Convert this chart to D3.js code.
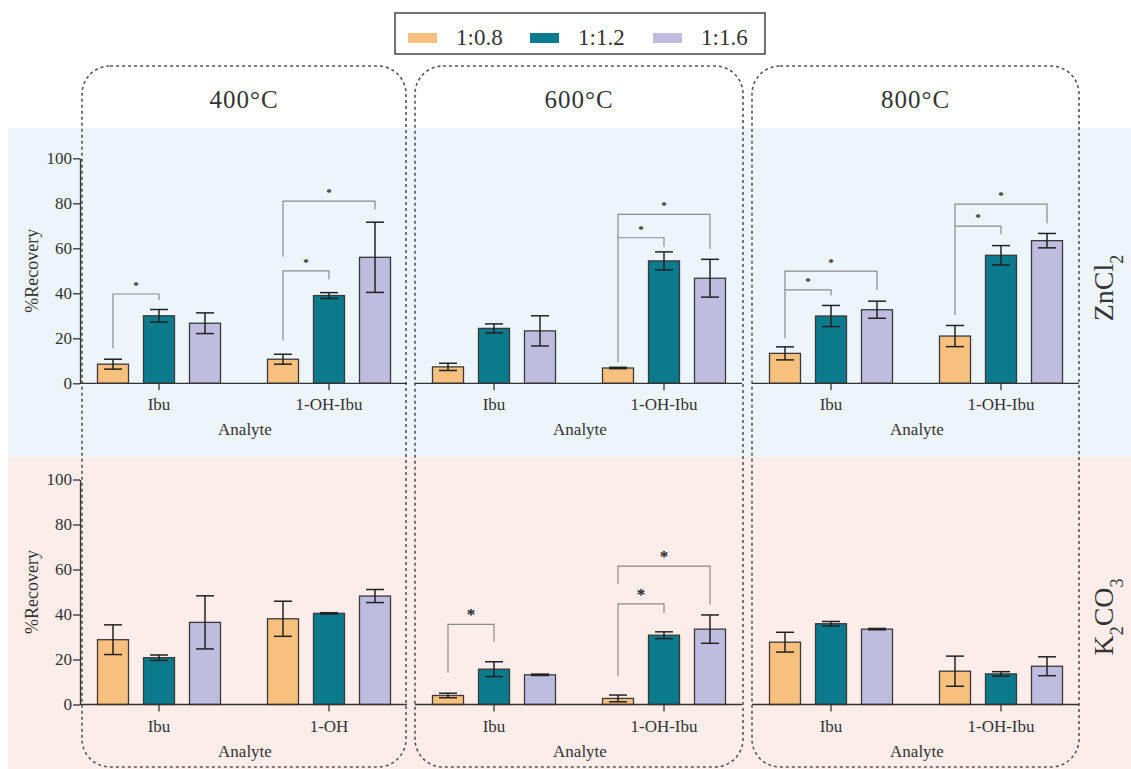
<!DOCTYPE html>
<html>
<head>
<meta charset="utf-8">
<script src="https://cdn.jsdelivr.net/npm/d3@7"></script>
<style>
  body { margin: 0; background: #fff; }
  svg text { font-family: "Liberation Serif", "Times New Roman", serif; fill: #333; }
</style>
</head>
<body>
<div id="chart"></div>
<script>
// categories
var ratios = ["1:0.8", "1:1.2", "1:1.6"];
var colors = ["#f8c07e", "#0b7a8d", "#bebde0"];
var temps = ["400°C", "600°C", "800°C"];
var analytes = ["Ibu", "1-OH-Ibu"];
var analytesShort = ["Ibu", "1-OH"];
var yTicks = [0, 20, 40, 60, 80, 100];

// %Recovery means, [analyte][ratio]
var zn400 = [[8.5, 30.0, 26.7], [10.7, 39.0, 56.0]];
var zn600 = [[7.3, 24.4, 23.3], [6.8, 54.4, 46.7]];
var zn800 = [[13.3, 29.9, 32.7], [21.0, 56.9, 63.4]];
var k400 = [[28.8, 20.8, 36.5], [38.1, 40.5, 48.2]];
var k600 = [[4.0, 15.7, 13.2], [2.7, 30.8, 33.5]];
var k800 = [[27.7, 35.9, 33.5], [14.8, 13.6, 17.0]];

// error bar half widths
var zn400Err = [[2.2, 2.8, 4.6], [2.2, 1.3, 15.6]];
var zn600Err = [[1.6, 2.0, 6.7], [0.3, 4.0, 8.4]];
var zn800Err = [[2.9, 4.7, 3.8], [4.7, 4.3, 3.2]];
var k400Err = [[6.6, 1.2, 11.8], [7.8, 0.3, 2.9]];
var k600Err = [[1.0, 3.3, 0.3], [1.5, 1.5, 6.3]];
var k800Err = [[4.4, 1.0, 0.3], [6.7, 1.0, 4.2]];

// significance brackets: [analyte, fromRatio, toRatio, top, leftLegEnd, rightLegEnd]
var zn400Sig = [[0, 0, 1, 39.7, 15.6, 37.0], [1, 0, 1, 50.0, 19.0, 46.2], [1, 0, 2, 81.0, 56.3, 77.3]];
var zn600Sig = [[1, 0, 1, 64.7, 9.5, 60.7], [1, 0, 2, 75.1, 64.7, 59.7]];
var zn800Sig = [[0, 0, 1, 41.5, 20.0, 39.0], [0, 0, 2, 49.9, 41.5, 41.5], [1, 0, 1, 69.9, 30.4, 66.2], [1, 0, 2, 79.6, 69.9, 71.1]];
var k400Sig = [];
var k600Sig = [[0, 0, 1, 35.6, 14.1, 27.9], [1, 0, 1, 44.7, 12.6, 40.7], [1, 0, 2, 61.5, 53.6, 44.4]];
var k800Sig = [];

var W = 1131, H = 769;
var svg = d3.select("#chart").append("svg")
    .attr("width", W)
    .attr("height", H);

// row backgrounds
svg.append("rect").attr("x", 8).attr("y", 128).attr("width", W - 8).attr("height", 329).attr("fill", "#edf5fb");
svg.append("rect").attr("x", 8).attr("y", 457).attr("width", W - 8).attr("height", H - 457).attr("fill", "#fcedea");

// legend
svg.append("rect")
    .attr("x", 395).attr("y", 13).attr("width", 370).attr("height", 41)
    .attr("fill", "#fff").attr("stroke", "#444").attr("stroke-width", 1.5);
var legX = [408, 530, 653];
ratios.forEach(function(r, i) {
    svg.append("rect").attr("x", legX[i]).attr("y", 33).attr("width", 29).attr("height", 10).attr("fill", colors[i]);
    svg.append("text").attr("x", legX[i] + 48).attr("y", 45).attr("font-size", "23px").text(r);
});

// column frames (dashed rounded boxes)
var cols = [80, 415, 752];     // start of x axis in each column
var frames = [[82, 406], [415, 743], [752, 1079]];
frames.forEach(function(f, i) {
    svg.append("rect")
        .attr("x", f[0]).attr("y", 66)
        .attr("width", f[1] - f[0]).attr("height", 701)
        .attr("rx", 28).attr("ry", 28)
        .attr("fill", "none").attr("stroke", "#555")
        .attr("stroke-width", 1.6).attr("stroke-dasharray", "3,3");
    svg.append("text")
        .attr("x", (f[0] + f[1]) / 2).attr("y", 108)
        .attr("text-anchor", "middle").attr("font-size", "25px")
        .attr("letter-spacing", "1px")
        .text(temps[i]);
});

// row labels
function rowLabel(y, parts) {
    var t = svg.append("text")
        .attr("transform", "translate(1113," + y + ") rotate(-90)")
        .attr("text-anchor", "middle").attr("font-size", "28px");
    parts.forEach(function(p) {
        var s = t.append("tspan").text(p[0]);
        if (p[1]) s.attr("font-size", "18px").attr("baseline-shift", "sub");
    });
}
rowLabel(288, [["ZnCl", false], ["2", true]]);
rowLabel(617, [["K", false], ["2", true], ["CO", false], ["3", true]]);

var rows = [
    { y0: 383.3, means: [zn400, zn600, zn800], errs: [zn400Err, zn600Err, zn800Err], sig: [zn400Sig, zn600Sig, zn800Sig], star: 11 },
    { y0: 704.5, means: [k400, k600, k800], errs: [k400Err, k600Err, k800Err], sig: [k400Sig, k600Sig, k800Sig], star: 17 }
];

rows.forEach(function(row, ri) {
    var yScale = d3.scaleLinear().domain([0, 100]).range([row.y0, row.y0 - 225]);

    row.means.forEach(function(means, ci) {
        var xs = cols[ci];
        var labels = (ri == 1 && ci == 0) ? analytesShort : analytes;
        var x0 = d3.scaleBand().domain(analytes).range([xs - 6, xs + 334]);
        var x1 = d3.scaleBand().domain(ratios).range([23.5, 146.5]).paddingInner(0.326);
        var g = svg.append("g");

        var data = [];
        analytes.forEach(function(a, ai) {
            ratios.forEach(function(r, k) {
                data.push({ a: a, r: r, k: k, v: means[ai][k], e: row.errs[ci][ai][k] });
            });
        });

        // bars
        g.selectAll(".bar")
            .data(data)
            .enter().append("rect")
            .attr("x", function(d) { return x0(d.a) + x1(d.r); })
            .attr("y", function(d) { return yScale(d.v); })
            .attr("width", x1.bandwidth())
            .attr("height", function(d) { return yScale(0) - yScale(d.v); })
            .attr("fill", function(d) { return colors[d.k]; })
            .attr("stroke", "#3a3a3a").attr("stroke-width", 1.3);

        // error bars
        var cx = function(d) { return x0(d.a) + x1(d.r) + x1.bandwidth() / 2; };
        var eb = g.selectAll(".err").data(data).enter().append("g").attr("stroke", "#222").attr("stroke-width", 1.5);
        eb.append("line")
            .attr("x1", cx).attr("x2", cx)
            .attr("y1", function(d) { return yScale(d.v + d.e); })
            .attr("y2", function(d) { return yScale(d.v - d.e); });
        [1, -1].forEach(function(sgn) {
            eb.append("line")
                .attr("x1", function(d) { return cx(d) - 9; })
                .attr("x2", function(d) { return cx(d) + 9; })
                .attr("y1", function(d) { return yScale(d.v + sgn * d.e); })
                .attr("y2", function(d) { return yScale(d.v + sgn * d.e); });
        });

        // significance brackets
        var bx = function(ai, k) { return x0(analytes[ai]) + x1(ratios[k]) + x1.bandwidth() / 2; };
        row.sig[ci].forEach(function(s) {
            var xa = bx(s[0], s[1]), xb = bx(s[0], s[2]);
            g.append("path")
                .attr("d", "M" + xa + "," + yScale(s[4]) + "V" + yScale(s[3]) + "H" + xb + "V" + yScale(s[5]))
                .attr("fill", "none").attr("stroke", "#8a8a8a").attr("stroke-width", 1.2);
            g.append("text")
                .attr("x", (xa + xb) / 2)
                .attr("y", yScale(s[3]) - (ri == 0 ? 5 : 4))
                .attr("text-anchor", "middle")
                .attr("font-size", row.star + "px")
                .attr("font-weight", "bold")
                .style("fill", "#222")
                .text("*");
        });

        // x axis
        var xAxis = g.append("g")
            .attr("transform", "translate(0," + yScale(0) + ")")
            .call(d3.axisBottom(x0).tickSize(7).tickSizeOuter(0).tickPadding(8)
                .tickFormat(function(d, i) { return labels[i]; }));
        xAxis.attr("font-family", null);
        xAxis.select(".domain").remove();
        xAxis.append("line").attr("x1", xs).attr("x2", xs + 327).attr("stroke", "#333").attr("stroke-width", 1.3);
        xAxis.selectAll(".tick line").attr("stroke", "#333").attr("stroke-width", 1.3);
        xAxis.selectAll(".tick text").attr("font-size", "17px");

        g.append("text")
            .attr("x", xs + 165).attr("y", yScale(0) + 52)
            .attr("text-anchor", "middle").attr("font-size", "17px")
            .text("Analyte");

        // y axis only on the first column
        if (ci == 0) {
            var yAxis = g.append("g")
                .attr("transform", "translate(" + xs + ",0)")
                .call(d3.axisLeft(yScale).tickValues(yTicks).tickSize(7).tickSizeOuter(0).tickPadding(1));
            yAxis.attr("font-family", null);
            yAxis.select(".domain").attr("stroke", "#333").attr("stroke-width", 1.3);
            yAxis.selectAll(".tick line").attr("stroke", "#333").attr("stroke-width", 1.3);
            yAxis.selectAll(".tick text").attr("font-size", "17px");
            g.append("text")
                .attr("transform", "translate(38," + yScale(50) + ") rotate(-90)")
                .attr("text-anchor", "middle").attr("font-size", "18px")
                .text("%Recovery");
        }
    });
});
</script>
</body>
</html>
